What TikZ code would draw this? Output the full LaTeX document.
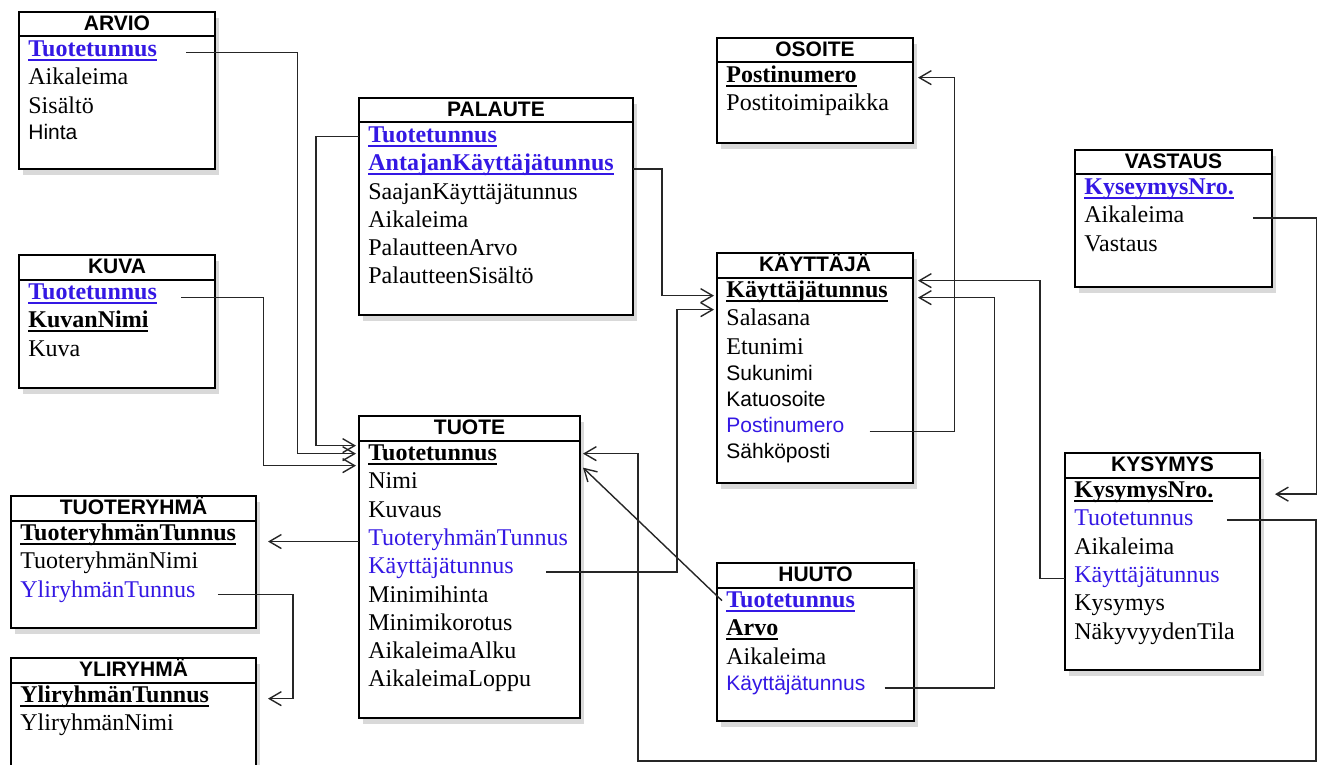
\documentclass[tikz,border=0pt]{standalone}
\usepackage{fontspec}
\setmainfont{Liberation Serif}
\setsansfont{Liberation Sans}
\usetikzlibrary{arrows.meta,calc,shadows}
\definecolor{fkblue}{RGB}{52,24,228}
\newcommand{\keyline}[1]{\setbox0\hbox{#1}\rlap{\rule[-2.2pt]{\wd0}{0.9pt}}\box0}
\tikzset{>={Straight Barb[length=6pt,width=7pt]},
	entity/.style={draw=black,line width=1pt,fill=white,anchor=north west,inner sep=0pt,outer sep=0pt,drop shadow={shadow xshift=2pt,shadow yshift=-3pt,opacity=0.3}},
	ehead/.style={draw=black,line width=1pt,anchor=north west,inner sep=0pt,outer sep=0pt,minimum height=12.25pt,text height=7.5pt,text depth=1.5pt,font=\fontsize{10.5}{12}\selectfont\sffamily\bfseries},
	attr/.style={anchor=north west,inner sep=0pt,text height=9.8pt,text depth=3.95pt,font=\fontsize{12}{14}\selectfont},
	kattr/.style={attr,font=\fontsize{12}{14}\selectfont\bfseries},
	sattr/.style={attr,text height=9pt,text depth=3.5pt,font=\fontsize{10.5}{12}\selectfont\sffamily},
	fk/.style={text=fkblue},
	link/.style={->,line width=0.7pt,draw=black!85}}
\begin{document}
\begin{tikzpicture}[x=0.5pt,y=-0.5pt]
	\useasboundingbox (0,0) rectangle (1324,765);
	% ARVIO
	\node (arvio) at (19,12) [entity,minimum width=98pt,minimum height=78.5pt] {};
	\node (arvioH) at (19,12) [ehead,minimum width=98pt] {ARVIO};
	\node (arvio1) at ($(arvioH.south west)+(9,0)$) [kattr,fk] {\keyline{Tuotetunnus}};
	\node (arvio2) at (arvio1.south west) [attr] {Aikaleima};
	\node (arvio3) at (arvio2.south west) [attr] {Sisältö};
	\node (arvio4) at (arvio3.south west) [sattr] {Hinta};
	% KUVA
	\node (kuva) at (19,255) [entity,minimum width=98pt,minimum height=66.5pt] {};
	\node (kuvaH) at (19,255) [ehead,minimum width=98pt] {KUVA};
	\node (kuva1) at ($(kuvaH.south west)+(9,0)$) [kattr,fk] {\keyline{Tuotetunnus}};
	\node (kuva2) at (kuva1.south west) [kattr] {\keyline{KuvanNimi}};
	\node (kuva3) at (kuva2.south west) [attr] {Kuva};
	% PALAUTE
	\node (palaute) at (359,98) [entity,minimum width=137pt,minimum height=108.5pt] {};
	\node (palauteH) at (359,98) [ehead,minimum width=137pt] {PALAUTE};
	\node (palaute1) at ($(palauteH.south west)+(9,0)$) [kattr,fk] {\keyline{Tuotetunnus}};
	\node (palaute2) at (palaute1.south west) [kattr,fk] {\keyline{AntajanKäyttäjätunnus}};
	\node (palaute3) at (palaute2.south west) [attr] {SaajanKäyttäjätunnus};
	\node (palaute4) at (palaute3.south west) [attr] {Aikaleima};
	\node (palaute5) at (palaute4.south west) [attr] {PalautteenArvo};
	\node (palaute6) at (palaute5.south west) [attr] {PalautteenSisältö};
	% OSOITE
	\node (osoite) at (717,38) [entity,minimum width=98pt,minimum height=52.5pt] {};
	\node (osoiteH) at (717,38) [ehead,minimum width=98pt] {OSOITE};
	\node (osoite1) at ($(osoiteH.south west)+(9,0)$) [kattr] {\keyline{Postinumero}};
	\node (osoite2) at (osoite1.south west) [attr] {Postitoimipaikka};
	% VASTAUS
	\node (vastaus) at (1075,150) [entity,minimum width=98.5pt,minimum height=68.5pt] {};
	\node (vastausH) at (1075,150) [ehead,minimum width=98.5pt] {VASTAUS};
	\node (vastaus1) at ($(vastausH.south west)+(9,0)$) [kattr,fk] {\keyline{KyseymysNro.}};
	\node (vastaus2) at (vastaus1.south west) [attr] {Aikaleima};
	\node (vastaus3) at (vastaus2.south west) [attr] {Vastaus};
	% KAYTTAJA
	\node (kayttaja) at (717,253) [entity,minimum width=98pt,minimum height=115pt] {};
	\node (kayttajaH) at (717,253) [ehead,minimum width=98pt] {KÄYTTÄJÄ};
	\node (kayttaja1) at ($(kayttajaH.south west)+(9,0)$) [kattr] {\keyline{Käyttäjätunnus}};
	\node (kayttaja2) at (kayttaja1.south west) [attr] {Salasana};
	\node (kayttaja3) at (kayttaja2.south west) [attr] {Etunimi};
	\node (kayttaja4) at (kayttaja3.south west) [sattr] {Sukunimi};
	\node (kayttaja5) at (kayttaja4.south west) [sattr] {Katuosoite};
	\node (kayttaja6) at (kayttaja5.south west) [sattr,fk] {Postinumero};
	\node (kayttaja7) at (kayttaja6.south west) [sattr] {Sähköposti};
	% TUOTE
	\node (tuote) at (359,416) [entity,minimum width=110.5pt,minimum height=151pt] {};
	\node (tuoteH) at (359,416) [ehead,minimum width=110.5pt] {TUOTE};
	\node (tuote1) at ($(tuoteH.south west)+(9,0)$) [kattr] {\keyline{Tuotetunnus}};
	\node (tuote2) at (tuote1.south west) [attr] {Nimi};
	\node (tuote3) at (tuote2.south west) [attr] {Kuvaus};
	\node (tuote4) at (tuote3.south west) [attr,fk] {TuoteryhmänTunnus};
	\node (tuote5) at (tuote4.south west) [attr,fk] {Käyttäjätunnus};
	\node (tuote6) at (tuote5.south west) [attr] {Minimihinta};
	\node (tuote7) at (tuote6.south west) [attr] {Minimikorotus};
	\node (tuote8) at (tuote7.south west) [attr] {AikaleimaAlku};
	\node (tuote9) at (tuote8.south west) [attr] {AikaleimaLoppu};
	% TUOTERYHMA
	\node (tuoteryhma) at (11,496) [entity,minimum width=122.5pt,minimum height=66pt] {};
	\node (tuoteryhmaH) at (11,496) [ehead,minimum width=122.5pt] {TUOTERYHMÄ};
	\node (tuoteryhma1) at ($(tuoteryhmaH.south west)+(9,0)$) [kattr] {\keyline{TuoteryhmänTunnus}};
	\node (tuoteryhma2) at (tuoteryhma1.south west) [attr] {TuoteryhmänNimi};
	\node (tuoteryhma3) at (tuoteryhma2.south west) [attr,fk] {YliryhmänTunnus};
	% YLIRYHMA
	\node (yliryhma) at (11,658) [entity,minimum width=122.5pt,minimum height=70pt] {};
	\node (yliryhmaH) at (11,658) [ehead,minimum width=122.5pt] {YLIRYHMÄ};
	\node (yliryhma1) at ($(yliryhmaH.south west)+(9,0)$) [kattr] {\keyline{YliryhmänTunnus}};
	\node (yliryhma2) at (yliryhma1.south west) [attr] {YliryhmänNimi};
	% HUUTO
	\node (huuto) at (717,563) [entity,minimum width=98.5pt,minimum height=79pt] {};
	\node (huutoH) at (717,563) [ehead,minimum width=98.5pt] {HUUTO};
	\node (huuto1) at ($(huutoH.south west)+(9,0)$) [kattr,fk] {\keyline{Tuotetunnus}};
	\node (huuto2) at (huuto1.south west) [kattr] {\keyline{Arvo}};
	\node (huuto3) at (huuto2.south west) [attr] {Aikaleima};
	\node (huuto4) at (huuto3.south west) [sattr,fk] {Käyttäjätunnus};
	% KYSYMYS
	\node (kysymys) at (1065,453) [entity,minimum width=97.5pt,minimum height=108.5pt] {};
	\node (kysymysH) at (1065,453) [ehead,minimum width=97.5pt] {KYSYMYS};
	\node (kysymys1) at ($(kysymysH.south west)+(9,0)$) [kattr] {\keyline{KysymysNro.}};
	\node (kysymys2) at (kysymys1.south west) [attr,fk] {Tuotetunnus};
	\node (kysymys3) at (kysymys2.south west) [attr] {Aikaleima};
	\node (kysymys4) at (kysymys3.south west) [attr,fk] {Käyttäjätunnus};
	\node (kysymys5) at (kysymys4.south west) [attr] {Kysymys};
	\node (kysymys6) at (kysymys5.south west) [attr] {NäkyvyydenTila};
	% viiteyhteydet
	\draw [link] ($(arvio1.east)+(29,2)$) -- ++(111,0) |- ($(tuote.west |- tuote1.west)+(-3,-1)$);
	\draw [link] (palaute.west |- palaute1.west) -- ++(-43,0) |- ($(tuote.west |- tuote1.west)+(-3,-9)$);
	\draw [link] ($(kuva1.east)+(24,4)$) -- ++(82,0) |- ($(tuote.west |- tuote1.west)+(-3,11)$);
	\draw [link] ($(palaute.east |- palaute2.east)+(0,4)$) -- ++(29,0) |- ($(kayttaja.west |- kayttaja1.west)+(-3,4)$);
	\draw [link] ($(tuote5.east)+(32,4)$) -- ++(131,0) |- ($(kayttaja.west |- kayttaja1.west)+(-3,18)$);
	\draw [link] ($(kayttaja6.east)+(25,4.5)$) -- ++(85,0) |- ($(osoite.east |- osoite1.east)+(5,1)$);
	\draw [link] ($(kysymys.west |- kysymys4.west)+(0,2)$) -- ++(-25,0) |- ($(kayttaja.east |- kayttaja1.east)+(5,-11)$);
	\draw [link] ($(huuto4.east)+(19,2.5)$) -- ++(110,0) |- ($(kayttaja.east |- kayttaja1.east)+(5,6)$);
	\draw [link] ($(vastaus2.east)+(68,1)$) -- ++(64,0) |- ($(kysymys.east |- kysymys1.east)+(15,2.5)$);
	\draw [link] ($(kysymys2.east)+(33,0)$) -- ++(89,0) -- ++(0,241) -| ($(tuote.east)+(58,0)$) |- ($(tuote.east |- tuote1.east)+(3,-1)$);
	\draw [link] ($(huuto1.west)+(-4,-1)$) -- ($(tuote.east |- tuote1.east)+(3,13)$);
	\draw [link] ($(tuote.west |- tuote4.west)+(0,2)$) -- ($(tuoteryhma.east |- tuote4.west)+(12,2)$);
	\draw [link] ($(tuoteryhma3.east)+(22,3)$) -- ++(75,0) |- ($(yliryhma.east |- yliryhma1.east)+(12,2)$);
\end{tikzpicture}
\end{document}
